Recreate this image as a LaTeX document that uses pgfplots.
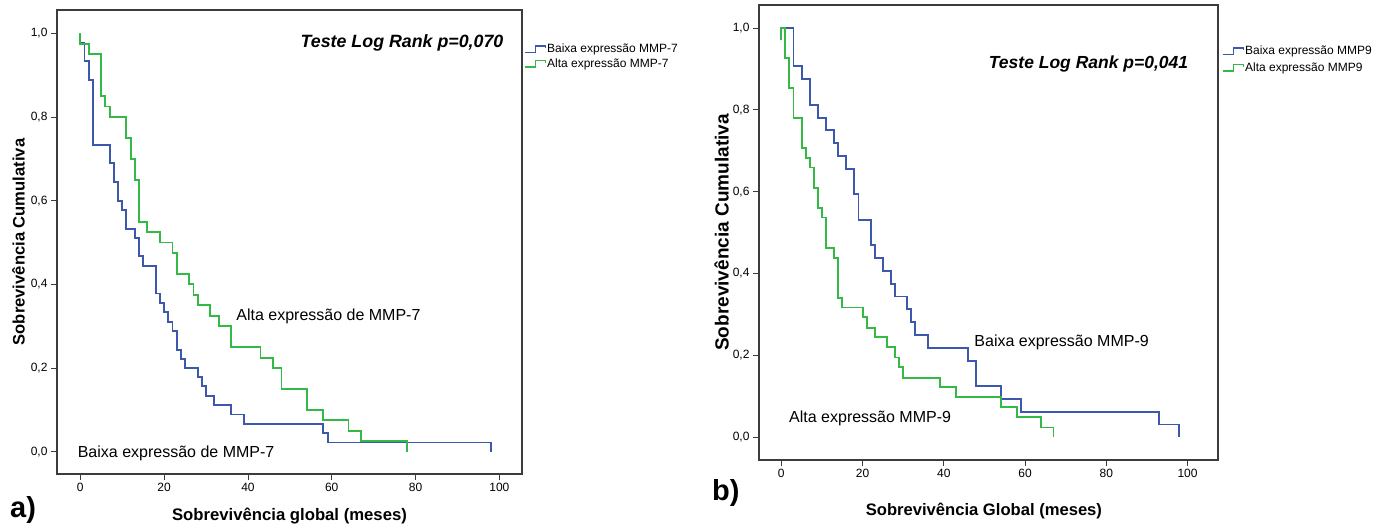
\documentclass[border=0pt]{standalone}
\usepackage{fontspec}
\setmainfont{Liberation Sans}
\usepackage{pgfplots}
\pgfplotsset{compat=1.18}
\definecolor{kmblue}{RGB}{60,88,172}
\definecolor{kmgreen}{RGB}{52,185,70}
\definecolor{axisgray}{RGB}{60,60,60}
\pgfplotsset{
 kmaxis/.style={
  scale only axis, clip=false,
  axis line style={axisgray, line width=1.3pt},
  tick align=outside, xtick pos=bottom, ytick pos=left,
  major tick length=6pt,
  tick style={axisgray, line width=0.8pt},
  xtick={0,20,...,100}, ytick={0,0.2,0.4,0.6,0.8,1},
  tick label style={font=\fontsize{12}{14}\selectfont},
  /pgf/number format/assume math mode=true,
  yticklabel style={/pgf/number format/fixed, /pgf/number format/fixed zerofill, /pgf/number format/precision=1, /pgf/number format/use comma},
  legend image code/.code={\draw[##1, line width=1.4pt] (0pt,-3pt) -- (10.5pt,-3pt) -- (10.5pt,3.3pt) -- (20.5pt,3.3pt) -- (20.5pt,1pt);},
  legend cell align=left,
  legend style={draw=none, fill=none, font=\fontsize{12}{14}\selectfont, anchor=north west, inner sep=0pt, nodes={inner sep=1pt}},
 },
 kmplot/.style={const plot, line width=1.9pt, no marks},
}
\begin{document}
\begin{tikzpicture}
\path[use as bounding box] (0,0) rectangle (1378pt,523pt);
% ---------------- Panel a ----------------
\begin{axis}[kmaxis,
  at={(57pt,49pt)}, anchor=south west,
  width=465pt, height=464pt,
  xmin=-5.56, xmax=105.4, ymin=-0.0533, ymax=1.0557,
  xlabel={Sobrevivência global (meses)},
  ylabel={Sobrevivência Cumulativa},
  every axis x label/.style={at={(axis description cs:0.5,-0.0998)}, anchor=base, font=\bfseries\fontsize{16.7}{19}\selectfont},
  every axis y label/.style={at={(axis description cs:-0.083,0.5)}, anchor=center, rotate=90, font=\bfseries\fontsize{16.6}{19}\selectfont},
  legend style={at={(rel axis cs:1,1)}, xshift=2pt, yshift=-33pt, row sep=2.5pt},
]
\addplot[kmplot, kmblue] coordinates {
(0,1) (0,0.978) (1,0.933) (2,0.889) (3,0.733) (7,0.689) (8,0.644) (9,0.600)
(10,0.578) (11,0.533) (13,0.511) (14,0.467) (15,0.444) (18,0.378) (19,0.356)
(20,0.333) (21,0.311) (22,0.289) (23,0.244) (24,0.222) (25,0.200) (28,0.178)
(29,0.156) (30,0.133) (32,0.111) (36,0.089) (39,0.067) (58,0.044) (59,0.022) (98,0)
};
\addlegendentry{Baixa expressão MMP-7}
\addplot[kmplot, kmgreen] coordinates {
(0,1) (0,0.975) (2,0.950) (5,0.850) (6,0.825) (7,0.800) (11,0.750) (12,0.700)
(13,0.650) (14,0.550) (16,0.525) (19,0.500) (22,0.475) (23,0.425) (26,0.400)
(27,0.375) (28,0.350) (31,0.325) (33,0.300) (36,0.250) (43,0.225) (46,0.200)
(48,0.150) (54,0.100) (58,0.075) (64,0.050) (67,0.025) (78,0)
};
\addlegendentry{Alta expressão MMP-7}
\node[anchor=base east, inner sep=0pt, font=\bfseries\itshape\fontsize{17.8}{20}\selectfont] at (axis cs:101,0.967) {Teste Log Rank p=0,070};
\node[anchor=base west, inner sep=0pt, font=\fontsize{16}{18}\selectfont] at (axis cs:37.2,0.313) {Alta expressão de MMP-7};
\node[anchor=base west, inner sep=0pt, font=\fontsize{16}{18}\selectfont] at (axis cs:-0.64,-0.0134) {Baixa expressão de MMP-7};
\end{axis}
% ---------------- Panel b ----------------
\begin{axis}[kmaxis,
  at={(759pt,63pt)}, anchor=south west,
  width=459pt, height=455pt,
  xmin=-5.49, xmax=107.5, ymin=-0.0554, ymax=1.056,
  xlabel={Sobrevivência Global (meses)},
  ylabel={Sobrevivência Cumulativa},
  every axis x label/.style={at={(axis description cs:0.49,-0.121)}, anchor=base, font=\bfseries\fontsize{16.6}{19}\selectfont},
  every axis y label/.style={at={(axis description cs:-0.0817,0.5)}, anchor=center, rotate=90, font=\bfseries\fontsize{19}{22}\selectfont},
  legend style={at={(rel axis cs:1,1)}, xshift=4pt, yshift=-40pt, row sep=4.5pt},
]
\addplot[kmplot, kmblue] coordinates {
(0,0.97) (0,1) (3,0.906) (5,0.875) (7,0.8125) (9,0.781) (11,0.750) (13,0.719)
(14,0.6875) (16,0.656) (18,0.594) (19,0.531) (22,0.469) (23,0.4375) (25,0.406)
(27,0.375) (28,0.344) (31,0.3125) (32,0.281) (33,0.250) (36,0.219) (46,0.1875)
(48,0.125) (54,0.094) (59,0.0625) (93,0.03125) (98,0)
};
\addlegendentry{Baixa expressão MMP9}
\addplot[kmplot, kmgreen] coordinates {
(0,0.97) (0,1) (1,0.927) (2,0.854) (3,0.780) (5,0.707) (6,0.683) (7,0.659)
(8,0.610) (9,0.561) (10,0.537) (11,0.463) (13,0.439) (14,0.341) (15,0.317)
(20,0.293) (21,0.268) (23,0.244) (26,0.220) (28,0.195) (29,0.171) (30,0.146)
(39,0.122) (43,0.098) (54,0.073) (58,0.049) (64,0.024) (67,0)
};
\addlegendentry{Alta expressão MMP9}
\node[anchor=base east, inner sep=0pt, font=\bfseries\itshape\fontsize{17.5}{20}\selectfont] at (axis cs:100.2,0.901) {Teste Log Rank p=0,041};
\node[anchor=base west, inner sep=0pt, font=\fontsize{16}{18}\selectfont] at (axis cs:47.5,0.221) {Baixa expressão MMP-9};
\node[anchor=base west, inner sep=0pt, font=\fontsize{16}{18}\selectfont] at (axis cs:1.9,0.0357) {Alta expressão MMP-9};
\end{axis}
\node[anchor=base west, inner sep=0pt, font=\bfseries\fontsize{29}{32}\selectfont] at (10pt,6pt) {a)};
\node[anchor=base west, inner sep=0pt, font=\bfseries\fontsize{29}{32}\selectfont] at (712pt,22.6pt) {b)};
\end{tikzpicture}
\end{document}
